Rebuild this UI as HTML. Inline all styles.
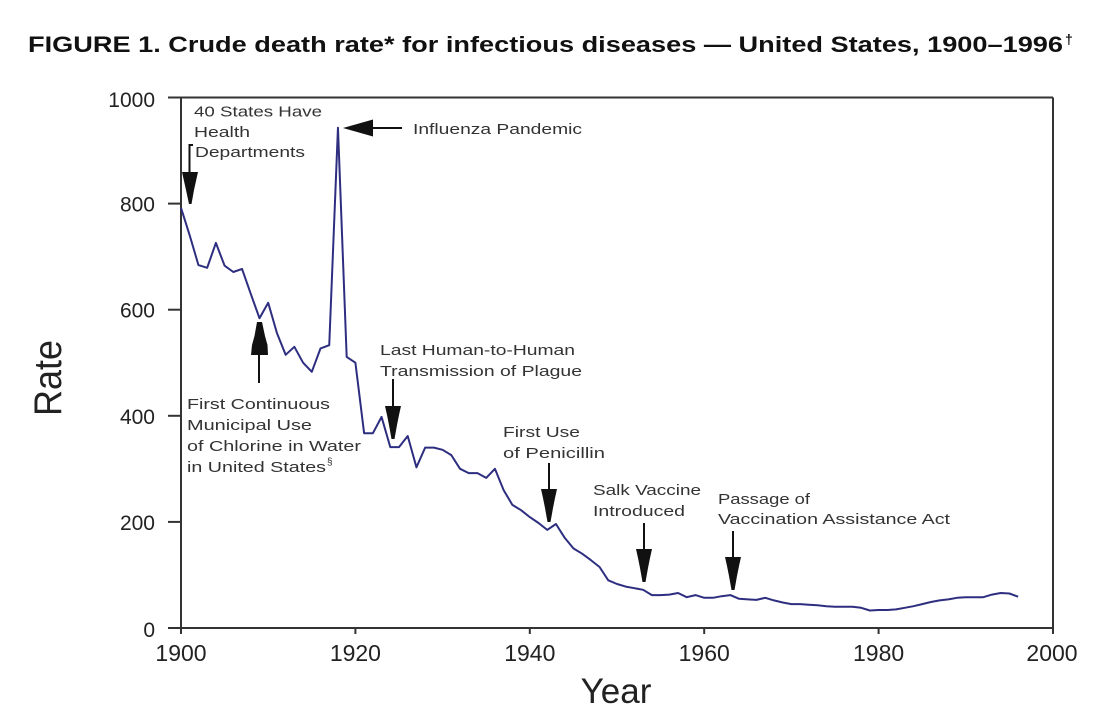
<!DOCTYPE html>
<html>
<head>
<meta charset="utf-8">
<style>
html,body{margin:0;padding:0;background:#fff;}
svg{display:block;}
text{font-family:"Liberation Sans",Arial,sans-serif;}
</style>
</head>
<body>
<svg width="1120" height="726" viewBox="0 0 1120 726" xmlns="http://www.w3.org/2000/svg">
<rect width="1120" height="726" fill="#fff"/>
<!-- Title -->
<text x="28" y="52" font-size="22" font-weight="bold" fill="#111" textLength="1035" lengthAdjust="spacingAndGlyphs">FIGURE 1. Crude death rate* for infectious diseases — United States, 1900–1996</text>
<text x="1065" y="44" font-size="14" font-weight="bold" fill="#111">†</text>

<!-- Frame / axes -->
<g stroke="#333" stroke-width="2" fill="none">
  <line x1="168" y1="97.5" x2="1053" y2="97.5"/>
  <line x1="1053" y1="97.5" x2="1053" y2="629"/>
  <line x1="181" y1="97.5" x2="181" y2="634"/>
  <line x1="168" y1="628" x2="1053" y2="628"/>
  <line x1="168" y1="203.6" x2="181" y2="203.6"/>
  <line x1="168" y1="309.7" x2="181" y2="309.7"/>
  <line x1="168" y1="415.8" x2="181" y2="415.8"/>
  <line x1="168" y1="521.9" x2="181" y2="521.9"/>
  <line x1="355.4" y1="628" x2="355.4" y2="634"/>
  <line x1="529.8" y1="628" x2="529.8" y2="634"/>
  <line x1="704.2" y1="628" x2="704.2" y2="634"/>
  <line x1="878.6" y1="628" x2="878.6" y2="634"/>
  <line x1="1053" y1="628" x2="1053" y2="634"/>
</g>

<!-- Y tick labels -->
<g font-size="21" fill="#222" text-anchor="end">
  <text x="155" y="107">1000</text>
  <text x="155" y="211.6">800</text>
  <text x="155" y="317.7">600</text>
  <text x="155" y="423.8">400</text>
  <text x="155" y="529.9">200</text>
  <text x="155" y="637">0</text>
</g>
<!-- X tick labels -->
<g font-size="23" fill="#222" text-anchor="middle">
  <text x="181" y="661">1900</text>
  <text x="355.4" y="661">1920</text>
  <text x="529.8" y="661">1940</text>
  <text x="704.2" y="661">1960</text>
  <text x="878.6" y="661">1980</text>
  <text x="1052" y="661">2000</text>
</g>

<!-- Axis titles -->
<text x="616" y="703" font-size="35" fill="#222" text-anchor="middle">Year</text>
<text transform="translate(61,378) rotate(-90)" font-size="39" fill="#222" text-anchor="middle" textLength="76" lengthAdjust="spacingAndGlyphs">Rate</text>

<!-- Series -->
<polyline fill="none" stroke="#2e2e80" stroke-width="2" stroke-linejoin="round" points="
181,207.8 189.72,235.4 198.44,265.1 207.16,267.8 215.88,242.9 224.6,265.7 233.32,272 242.04,268.9 250.76,293.8 259.48,318.2 268.2,302.8 276.92,333 285.64,354.8 294.36,346.8 303.08,362.7 311.8,371.8 320.52,348.4 329.24,345.2 337.96,127.7 346.68,356.9 355.4,362.7 364.12,433.3 372.84,433.3 381.56,416.9 390.28,447.1 399,447.1 407.72,436 416.44,467.3 425.16,447.6 433.88,447.6 442.6,449.8 451.32,455.1 460.04,468.8 468.76,473.1 477.48,473.1 486.2,477.9 494.92,468.8 503.64,490.1 512.36,504.9 521.08,510.2 529.8,517.1 538.52,523 547.24,529.9 555.96,524 564.68,537.8 573.4,548.4 582.12,553.7 590.84,560.1 599.56,567 608.28,580.3 617,584 625.72,586.6 634.44,588.2 643.16,589.8 651.88,595.1 660.6,595.1 669.32,594.6 678.04,593 686.76,597.2 695.48,595.1 704.2,597.8 712.92,597.8 721.64,596.2 730.36,595.1 739.08,598.8 747.8,599.4 756.52,599.9 765.24,597.8 773.96,600.4 782.68,602.5 791.4,604.1 800.12,604.1 808.84,604.7 817.56,605.2 826.28,606.2 835,606.8 843.72,606.8 852.44,606.8 861.16,607.8 869.88,610.5 878.6,610 887.32,610 896.04,609.4 904.76,607.8 913.48,606.2 922.2,604.1 930.92,602 939.64,600.4 948.36,599.4 957.08,597.8 965.8,597.2 974.52,597.2 983.24,597.2 991.96,594.6 1000.68,593 1009.4,593.5 1018.12,596.7"/>

<!-- Arrows -->
<g stroke="#111" stroke-width="2" fill="none">
  <polyline points="193,145 189.5,145 189.5,173"/>
  <line x1="402" y1="128" x2="372" y2="128"/>
  <line x1="259" y1="354" x2="259" y2="383"/>
  <line x1="393" y1="379" x2="393" y2="407"/>
  <line x1="549" y1="463" x2="549" y2="490"/>
  <line x1="644" y1="523" x2="644" y2="550"/>
  <line x1="733" y1="531" x2="733" y2="558"/>
</g>
<g fill="#111">
  <polygon points="182,172 198,172 196,181 194,190 191.5,204 189,204 186,190 184,181"/>
  <polygon points="343,128 373,119.5 373,136.5"/>
  <polygon points="259.5,322 262,322 265,336 267.5,345 268,355 251,355 252,345 254.5,336 257,322"/>
  <polygon points="385,406 401,406 399,415 397,425 394.5,439 391.5,439 389,425 387,415"/>
  <polygon points="541,489 557,489 555,498 553,508 550.5,522 547.5,522 545,508 543,498"/>
  <polygon points="636,549 652,549 650,558 648,568 645.5,582 642.5,582 640,568 638,558"/>
  <polygon points="725,557 741,557 739,566 737,576 734.5,590 731.5,590 729,576 727,566"/>
</g>

<!-- Annotations -->
<g font-size="15" fill="#333">
  <text x="194" y="116.5" textLength="128" lengthAdjust="spacingAndGlyphs">40 States Have</text>
  <text x="194" y="137" textLength="56" lengthAdjust="spacingAndGlyphs">Health</text>
  <text x="195" y="157" textLength="110" lengthAdjust="spacingAndGlyphs">Departments</text>

  <text x="413" y="134" textLength="169" lengthAdjust="spacingAndGlyphs">Influenza Pandemic</text>

  <text x="380" y="355" textLength="195" lengthAdjust="spacingAndGlyphs">Last Human-to-Human</text>
  <text x="380" y="376" textLength="202" lengthAdjust="spacingAndGlyphs">Transmission of Plague</text>

  <text x="187" y="409" textLength="143" lengthAdjust="spacingAndGlyphs">First Continuous</text>
  <text x="187" y="430" textLength="125" lengthAdjust="spacingAndGlyphs">Municipal Use</text>
  <text x="187" y="451" textLength="174" lengthAdjust="spacingAndGlyphs">of Chlorine in Water</text>
  <text x="187" y="472" textLength="139" lengthAdjust="spacingAndGlyphs">in United States</text>
  <text x="327" y="465" font-size="10">§</text>

  <text x="503" y="437" textLength="77" lengthAdjust="spacingAndGlyphs">First Use</text>
  <text x="503" y="458" textLength="102" lengthAdjust="spacingAndGlyphs">of Penicillin</text>

  <text x="593" y="495" textLength="108" lengthAdjust="spacingAndGlyphs">Salk Vaccine</text>
  <text x="593" y="516" textLength="92" lengthAdjust="spacingAndGlyphs">Introduced</text>

  <text x="718" y="504" textLength="92" lengthAdjust="spacingAndGlyphs">Passage of</text>
  <text x="718" y="524" textLength="232" lengthAdjust="spacingAndGlyphs">Vaccination Assistance Act</text>
</g>
</svg>
</body>
</html>
